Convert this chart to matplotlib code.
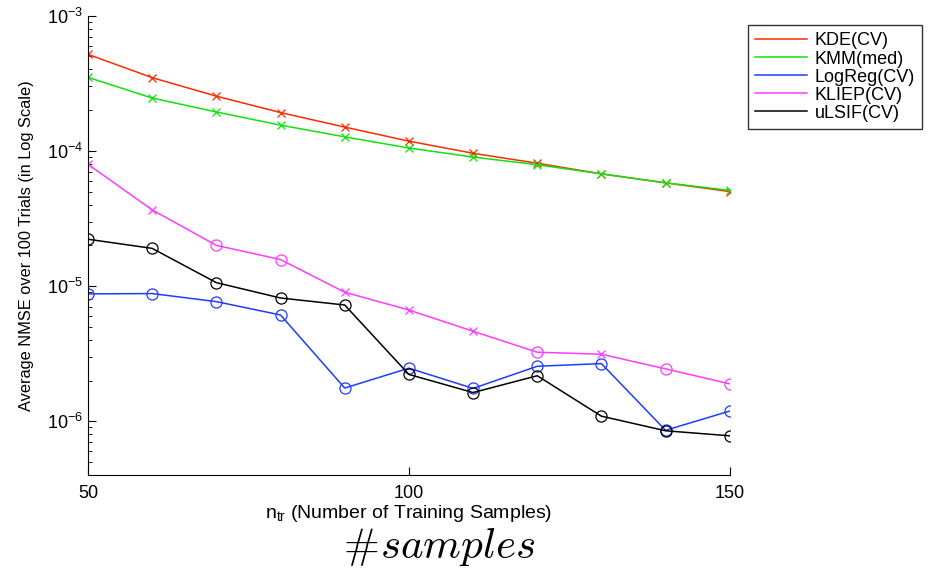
import numpy as np
import matplotlib.pyplot as plt

plt.rcParams['font.family'] = ['Liberation Sans', 'DejaVu Sans']
plt.rcParams['mathtext.fontset'] = 'custom'
plt.rcParams['mathtext.rm'] = 'Liberation Sans'
plt.rcParams['mathtext.it'] = 'Liberation Sans:italic'

n_tr = [50, 60, 70, 80, 90, 100, 110, 120, 130, 140, 150]

kde_cv = [5.18e-4, 3.48e-4, 2.54e-4, 1.92e-4, 1.50e-4, 1.18e-4, 9.6e-5, 8.1e-5, 6.76e-5, 5.8e-5, 5.0e-5]
kmm_med = [3.5e-4, 2.46e-4, 1.94e-4, 1.55e-4, 1.27e-4, 1.05e-4, 9.0e-5, 7.9e-5, 6.76e-5, 5.8e-5, 5.1e-5]
logreg_cv = [8.75e-6, 8.8e-6, 7.67e-6, 6.11e-6, 1.76e-6, 2.47e-6, 1.75e-6, 2.55e-6, 2.67e-6, 8.57e-7, 1.19e-6]
kliep_cv = [7.96e-5, 3.66e-5, 2.0e-5, 1.57e-5, 9.0e-6, 6.65e-6, 4.63e-6, 3.24e-6, 3.13e-6, 2.44e-6, 1.89e-6]
ulsif_cv = [2.22e-5, 1.9e-5, 1.06e-5, 8.16e-6, 7.24e-6, 2.22e-6, 1.63e-6, 2.17e-6, 1.09e-6, 8.5e-7, 7.8e-7]

# marcador por punto: 'o' = mejor método o comparable, 'x' = peor
kde_mk = ['x'] * 11
kmm_mk = ['x'] * 11
logreg_mk = ['o'] * 11
kliep_mk = ['x', 'x', 'o', 'o', 'x', 'x', 'x', 'o', 'x', 'o', 'o']
ulsif_mk = ['o'] * 11

series = [
    ('KDE(CV)', kde_cv, kde_mk, '#ff2a00'),
    ('KMM(med)', kmm_med, kmm_mk, '#11e011'),
    ('LogReg(CV)', logreg_cv, logreg_mk, '#1f3cff'),
    ('KLIEP(CV)', kliep_cv, kliep_mk, '#ff3cff'),
    ('uLSIF(CV)', ulsif_cv, ulsif_mk, 'black'),
]


def main():
    fig = plt.figure(figsize=(9.49, 5.73), dpi=100)
    ax = fig.add_axes([0.0927, 0.1705, 0.6763, 0.8021])

    handles = []
    for nombre, y, marcas, color in series:
        h, = ax.plot(n_tr, y, color=color, lw=1.1, label=nombre)
        handles.append(h)
        x = np.array(n_tr)
        yy = np.array(y)
        m = np.array(marcas)
        for mk, size in [('x', 6), ('o', 8)]:
            sel = m == mk
            if sel.any():
                ax.plot(x[sel], yy[sel], ls='none', marker=mk, ms=size,
                        mfc='none', mec=color, mew=0.9)

    ax.set_yscale('log')
    ax.set_xlim(50, 150)
    ax.set_ylim(10 ** -6.4, 1e-3)
    ax.set_xticks([50, 100, 150])
    ax.set_yticks([1e-6, 1e-5, 1e-4, 1e-3])
    ax.set_yticklabels([r'$10^{-6}$', r'$10^{-5}$', r'$10^{-4}$', r'$10^{-3}$'])
    ax.tick_params(which='both', direction='in', labelsize=13)
    ax.tick_params(which='major', length=6)
    ax.tick_params(which='minor', length=3)
    ax.tick_params(axis='x', pad=7)
    ax.spines['top'].set_visible(False)
    ax.spines['right'].set_visible(False)

    ax.set_xlabel(r'n$_{\rm tr}$ (Number of Training Samples)', fontsize=14, labelpad=1)
    ax.set_ylabel('Average NMSE over 100 Trials (in Log Scale)', fontsize=11.8, labelpad=9)

    fig.legend(handles=handles, loc='upper left', bbox_to_anchor=(0.788, 0.956),
               fontsize=13, frameon=True, fancybox=False, edgecolor='black',
               handlelength=2.9, handletextpad=0.4, labelspacing=0.06,
               borderpad=0.4, borderaxespad=0)

    # "#samples": almohadilla en cmr10 y el resto en cursiva matemática
    fig.text(0.4004, 0.045, '#', fontsize=31, ha='right', va='center', family='cmr10')
    fig.text(0.4004, 0.045, r'$samples$', fontsize=31, ha='left', va='center',
             math_fontfamily='cm')

    fig.savefig('out.png', dpi=100)


if __name__ == "__main__":
    main()
